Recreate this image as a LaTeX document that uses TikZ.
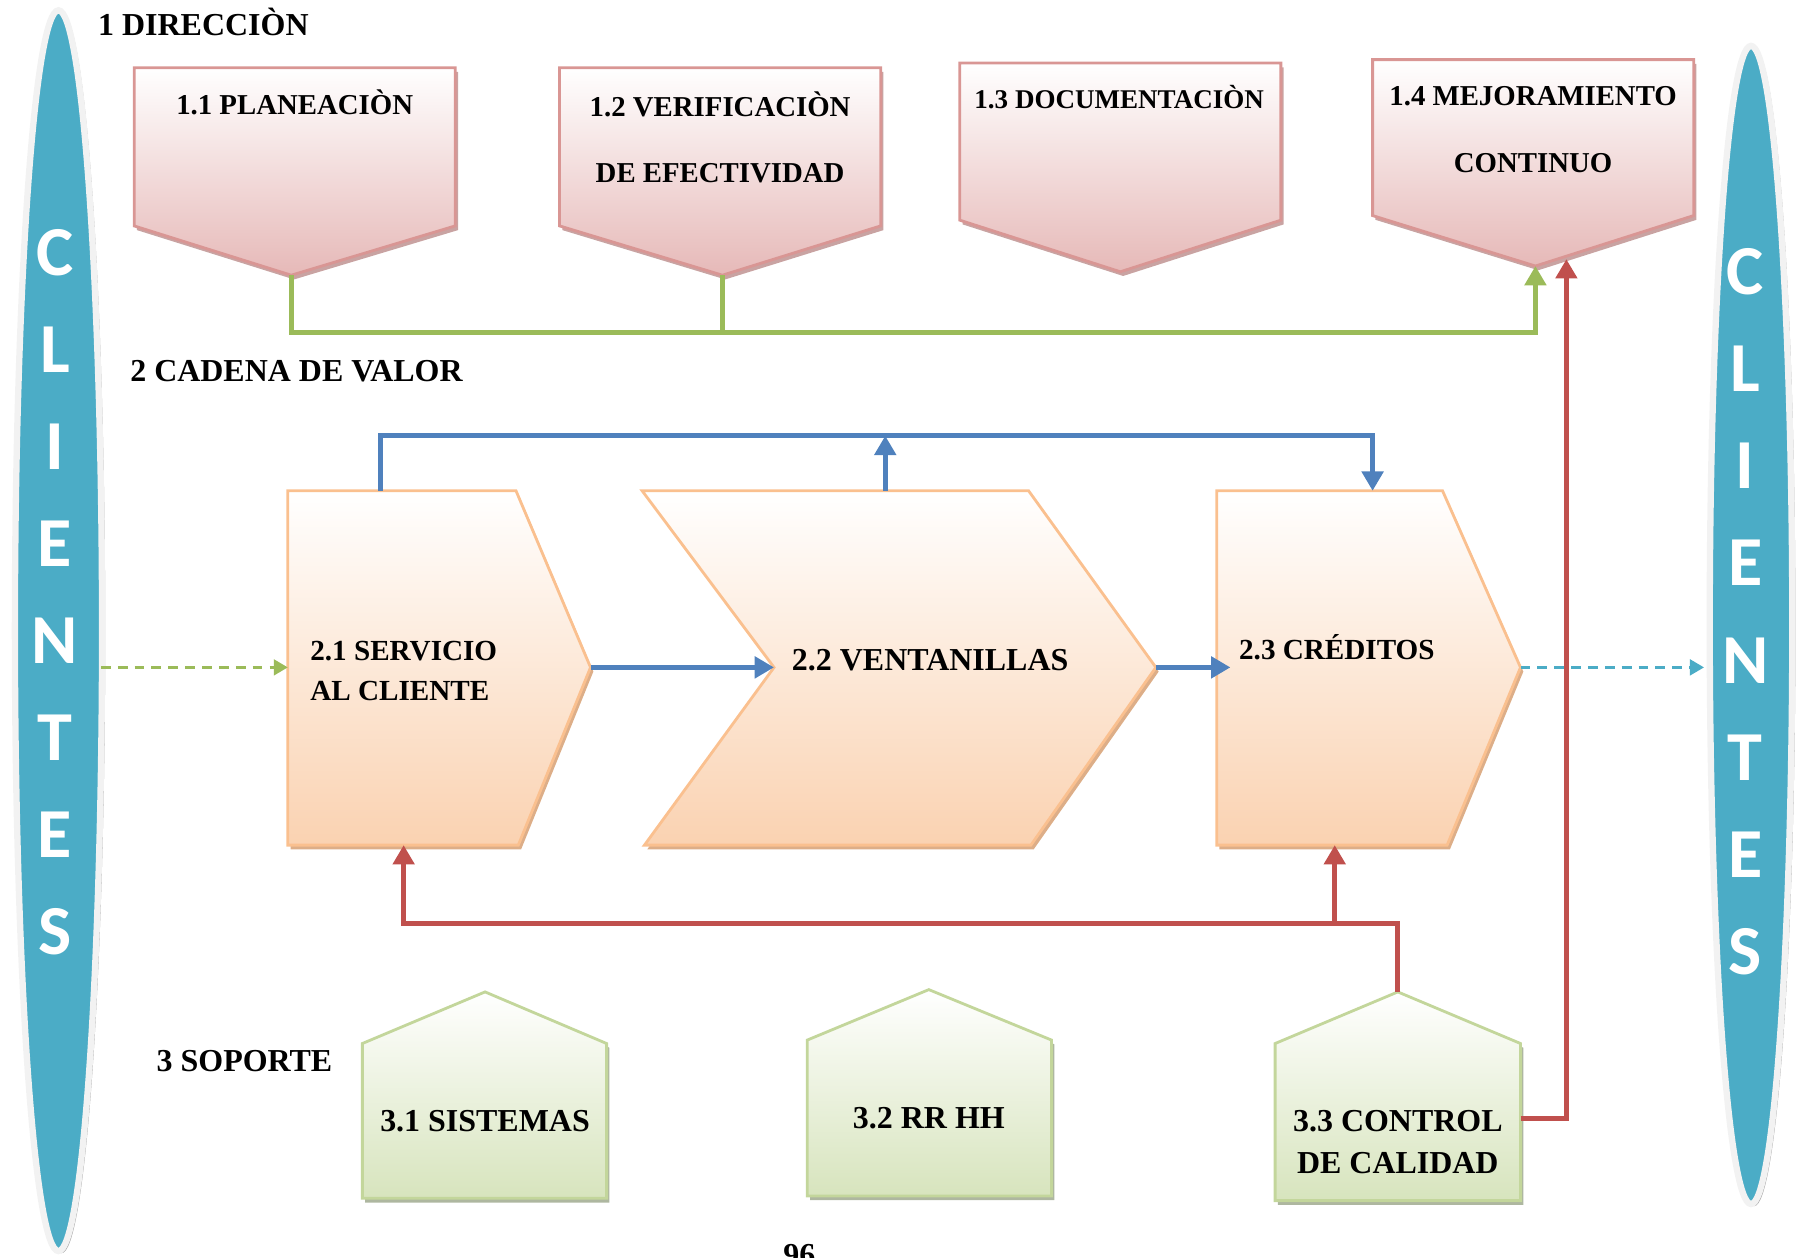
\documentclass[tikz,border=0pt]{standalone}
\usepackage{fontspec}
\setmainfont{Liberation Serif}
\newfontfamily\letterfont{Carlito}
\usetikzlibrary{positioning, shadows, arrows.meta}
\definecolor{pinkfill}{HTML}{E6B9B8}
\definecolor{pinkedge}{HTML}{D99694}
\definecolor{pinkshade}{HTML}{C9A3A2}
\definecolor{orangefill}{HTML}{FAD2B1}
\definecolor{orangeedge}{HTML}{FAC08F}
\definecolor{orangeshade}{HTML}{DDAE88}
\definecolor{greenfill}{HTML}{D7E4BD}
\definecolor{greenedge}{HTML}{C3D69B}
\definecolor{greenshade}{HTML}{AEB7A0}
\definecolor{bluearr}{HTML}{4F81BD}
\definecolor{redarr}{HTML}{C0504D}
\definecolor{greenarr}{HTML}{9BBB59}
\definecolor{aqua}{HTML}{4BACC6}
\tikzset{
  pinkbox/.style={draw=pinkedge, line width=0.8pt, top color=white, bottom color=pinkfill,
    drop shadow={shadow xshift=0.8pt, shadow yshift=-1.2pt, fill=pinkshade, opacity=1}},
  orangebox/.style={draw=orangeedge, line width=0.8pt, top color=white, bottom color=orangefill,
    drop shadow={shadow xshift=0.8pt, shadow yshift=-1.2pt, fill=orangeshade, opacity=1}},
  greenbox/.style={draw=greenedge, line width=0.8pt, top color=white, bottom color=greenfill,
    drop shadow={shadow xshift=0.8pt, shadow yshift=-1.2pt, fill=greenshade, opacity=1}},
  client/.style={fill=aqua, draw=black!5, line width=1.8pt,
    drop shadow={shadow xshift=0.9pt, shadow yshift=-0.6pt, fill=black!35, opacity=1}},
  letter/.style={text=white, font=\letterfont\bfseries\fontsize{20}{20}\selectfont},
  head/.style={inner sep=0pt, font=\bfseries\fontsize{9.1}{11}\selectfont},
  toptxt/.style={font=\bfseries\fontsize{8.2}{10}\selectfont},
  toptwo/.style={font=\bfseries\fontsize{8.2}{18.9}\selectfont, align=center},
  midtxt/.style={inner sep=0pt, font=\bfseries\fontsize{8.3}{11.4}\selectfont, align=left},
  bigtxt/.style={inner sep=0pt, font=\bfseries\fontsize{9.1}{11}\selectfont},
  lowtwo/.style={font=\bfseries\fontsize{9.1}{12.1}\selectfont, align=center},
  conn/.style={line width=1.4pt},
  arr/.style={-{Triangle[width=6pt,length=5.5pt]}},
  dline/.style={line width=0.7pt, dash pattern=on 2.8pt off 2pt, -{Triangle[width=4.5pt,length=4pt]}}
}

\begin{document}
\begin{tikzpicture}[x=0.011467cm, y=-0.011467cm]
\useasboundingbox (0,0) rectangle (1568,1097);
\clip (0,0) rectangle (1568,1097);

% clientes
\draw[client] (51,550) ellipse [x radius=38, y radius=541];
\draw[client] (1527,545) ellipse [x radius=36, y radius=505];
\foreach \ch [count=\i] in {C,L,I,E,N,T,E,S}{
  \node[letter] (cl\i) at (48,{135.4+84.6*\i}) {\ch};
  \node[letter] (cr\i) at (1522,{152.3+84.7*\i}) {\ch};
}
\coordinate (le) at (88,582);
\coordinate (re) at (1486,582);

% section titles
\node[head, anchor=base west] (dir) at (85,31) {1 DIRECCIÒN};
\node[head, anchor=base west] (cad) at (113,333) {2 CADENA DE VALOR};
\node[head, anchor=base west] (sop) at (136,934) {3 SOPORTE};

% 1 direccion
\draw[pinkbox] (117,59) -- (397,59) -- (397,197) -- (254,240) coordinate (p11) -- (117,197) -- cycle;
\draw[pinkbox] (488,59) -- (768,59) -- (768,197) -- (630,240) coordinate (p12) -- (488,197) -- cycle;
\draw[pinkbox] (837,55) -- (1117,55) -- (1117,192) -- (977,237) coordinate (p13) -- (837,192) -- cycle;
\draw[pinkbox] (1197,52) -- (1477,52) -- (1477,188) -- (1339,232) coordinate (p14) -- (1197,188) -- cycle;
\node[toptxt, anchor=base] (t11) at (257,100) {1.1 PLANEACIÒN};
\node[toptwo] (t12) at (628,120) {1.2 VERIFICACIÒN\\DE EFECTIVIDAD};
\node[toptxt, anchor=base, font=\bfseries\fontsize{7.7}{10}\selectfont] (t13) at (976,95) {1.3 DOCUMENTACIÒN};
\node[toptwo] (t14) at (1337,113) {1.4 MEJORAMIENTO\\CONTINUO};

% 2 cadena de valor
\draw[orangebox] (251,428) -- (450,428) -- (515,582) coordinate (p21) -- (452,737) -- (251,737) -- cycle;
\draw[orangebox] (560,428) -- (897,428) -- (1008,582) coordinate (p22) -- (899,737) -- (562,737) -- (675,582) coordinate (n22) -- cycle;
\draw[orangebox] (1061,428) -- (1258,428) -- (1326,582) coordinate (p23) -- (1262,737) -- (1061,737) -- cycle;
\coordinate (w21) at (251,582);
\coordinate (w23) at (1073,582);
\coordinate (q21) at (332,428);
\coordinate (q22) at (772,428);
\coordinate (q23) at (1197,428);
\coordinate (b21) at (352,737);
\coordinate (b23) at (1164,737);
\node[midtxt, anchor=west] (t21) at (270,585) {2.1 SERVICIO\\AL CLIENTE};
\node[bigtxt, anchor=base west] (t22) at (690,585) {2.2 VENTANILLAS};
\node[midtxt, anchor=base west] (t23) at (1080,575) {2.3 CRÉDITOS};

% 3 soporte
\draw[greenbox] (316,910) -- (423,865) -- (529,910) -- (529,1045) -- (316,1045) -- cycle;
\draw[greenbox] (704,907) -- (810,863) -- (917,907) -- (917,1043) -- (704,1043) -- cycle;
\draw[greenbox] (1112,910) -- (1219,865) coordinate (p33) -- (1326,910) -- (1326,1047) -- (1112,1047) -- cycle;
\coordinate (e33) at (1326,975);
\coordinate (r14) at (1366,226);
\node[bigtxt, anchor=base] (t31) at (423,987) {3.1 SISTEMAS};
\node[bigtxt, anchor=base] (t32) at (810,984) {3.2 RR HH};
\node[lowtwo] (t33) at (1219,996) {3.3 CONTROL\\DE CALIDAD};

% flechas
\coordinate (gbus) at (0,290);
\coordinate (bbus) at (0,380);
\coordinate (rbus) at (0,805);
\draw[conn, greenarr, arr] (p11) -- (p11 |- gbus) -| (p14);
\draw[conn, greenarr] (p12) -- (p12 |- gbus);
\draw[dline, greenarr] (le) -- (w21);
\draw[dline, aqua] (p23) -- (re);
\draw[conn, bluearr, arr] (q21) -- (q21 |- bbus) -| (q23);
\draw[conn, bluearr, arr] (q22) -- (q22 |- bbus);
\draw[conn, bluearr, arr] (p21) -- (n22);
\draw[conn, bluearr, arr] (p22) -- (w23);
\draw[conn, redarr, arr] (p33) -- (p33 |- rbus) -| (b21);
\draw[conn, redarr, arr] (b23 |- rbus) -- (b23);
\draw[conn, redarr, arr] (e33) -| (r14);

\node[head, anchor=base] (pg) at (697,1104) {96};
\end{tikzpicture}
\end{document}
